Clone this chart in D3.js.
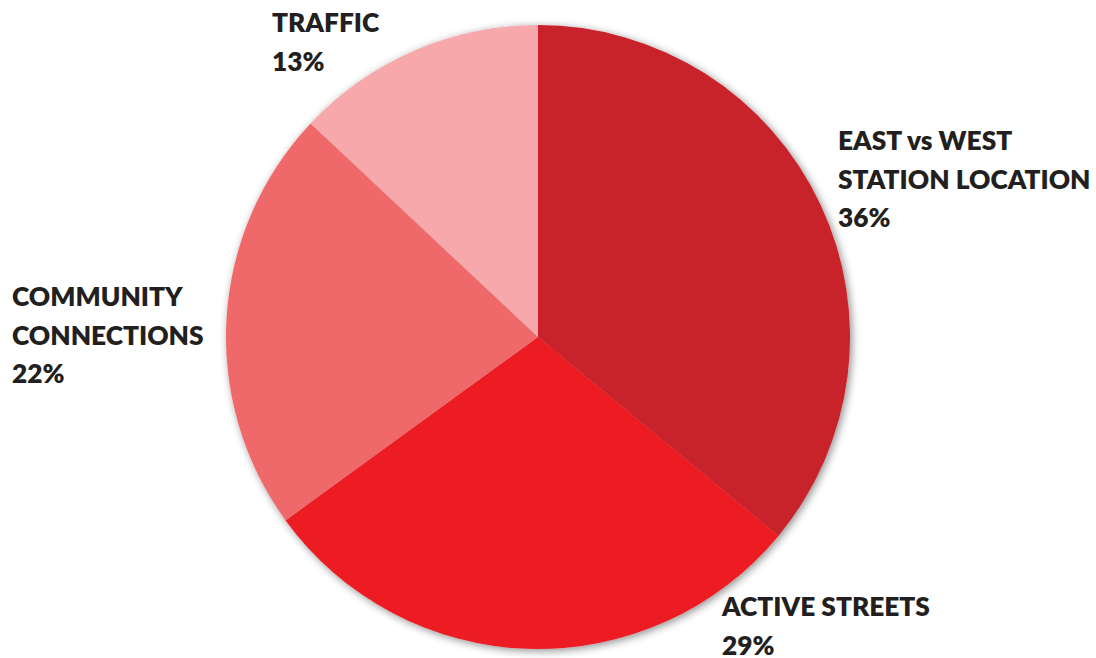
<!DOCTYPE html>
<html>
<head>
<meta charset="utf-8">
<script src="https://cdn.jsdelivr.net/npm/d3@7"></script>
<style>
  body { margin: 0; background: #fff; }
  svg { display: block; }
  .lbl { font-family: Lato, "Open Sans", sans-serif; font-weight: 800; font-size: 26.3px; fill: #231f20; }
</style>
</head>
<body>
<svg width="1096" height="658"></svg>
<script>
// slice data, clockwise from 12 o'clock
var categories = ['EAST vs WEST\nSTATION LOCATION', 'ACTIVE STREETS', 'COMMUNITY\nCONNECTIONS', 'TRAFFIC'];
var values = [36, 29, 22, 13];
var colors = ['#c8202a', '#ed1c24', '#f0696a', '#f6a8ab'];
// where each label block starts (left x, first baseline)
var labelPos = [[838, 150], [722, 616], [12, 306], [272, 32]];

var width = 1096, height = 658;
var cx = 538, cy = 337, radius = 312;
var lineH = 38.5;

var svg = d3.select('svg');

var defs = svg.append('defs');
var f = defs.append('filter').attr('id', 'shadow')
    .attr('x', '-10%').attr('y', '-10%').attr('width', '120%').attr('height', '120%');
f.append('feGaussianBlur').attr('in', 'SourceAlpha').attr('stdDeviation', 4).attr('result', 'b');
f.append('feOffset').attr('in', 'b').attr('dx', 2).attr('dy', 2).attr('result', 'o');
f.append('feComponentTransfer').attr('in', 'o').attr('result', 's')
  .append('feFuncA').attr('type', 'linear').attr('slope', 0.45);
var m = f.append('feMerge');
m.append('feMergeNode').attr('in', 's');
m.append('feMergeNode').attr('in', 'SourceGraphic');

var pie = d3.pie().sort(null).startAngle(0).endAngle(2 * Math.PI);
var arc = d3.arc().innerRadius(0).outerRadius(radius);
var arcs = pie(values);

var g = svg.append('g')
    .attr('transform', 'translate(' + cx + ',' + cy + ')')
    .attr('filter', 'url(#shadow)');

g.selectAll('path').data(arcs)
  .enter()
    .append('path')
    .attr('d', arc)
    .attr('fill', function(d, i){ return colors[i]; });

categories.forEach(function(c, i){
  var lines = c.split('\n').concat([values[i] + '%']);
  var t = svg.append('text').attr('class', 'lbl')
      .attr('x', labelPos[i][0]).attr('y', labelPos[i][1]);
  lines.forEach(function(l, j){
    t.append('tspan')
      .attr('x', labelPos[i][0])
      .attr('y', labelPos[i][1] + j * lineH)
      .text(l);
  });
});
</script>
</body>
</html>
